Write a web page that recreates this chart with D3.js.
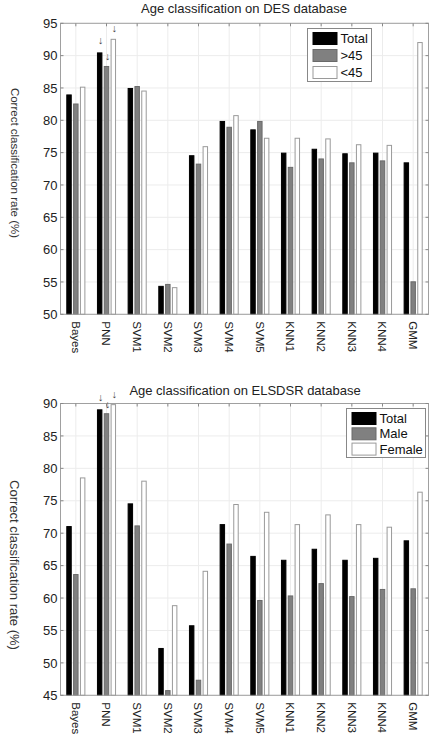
<!DOCTYPE html>
<html><head><meta charset="utf-8">
<script src="https://cdn.jsdelivr.net/npm/d3@7"></script>
<style>
html,body{margin:0;padding:0;background:#fff;}
svg{display:block;font-family:"Liberation Sans",Arial,Helvetica,sans-serif;}
</style></head>
<body>
<script>
const categories = ["Bayes","PNN","SVM1","SVM2","SVM3","SVM4","SVM5","KNN1","KNN2","KNN3","KNN4","GMM"];

// Chart 1: DES database
const desTitle = "Age classification on DES database";
const desSeries = ["Total", ">45", "<45"];
const desTotal = [84.0, 90.5, 85.0, 54.4, 74.6, 79.9, 78.6, 75.0, 75.6, 74.9, 75.0, 73.5];
const desOver45 = [82.6, 88.4, 85.3, 54.7, 73.3, 79.0, 79.9, 72.8, 74.1, 73.5, 73.8, 55.1];
const desUnder45 = [85.2, 92.6, 84.6, 54.2, 76.0, 80.8, 77.3, 77.3, 77.2, 76.3, 76.2, 92.1];
const desTicks = [50, 55, 60, 65, 70, 75, 80, 85, 90, 95];

// Chart 2: ELSDSR database
const elsTitle = "Age classification on ELSDSR database";
const elsSeries = ["Total", "Male", "Female"];
const elsTotal = [71.1, 89.1, 74.6, 52.3, 55.8, 71.4, 66.5, 65.9, 67.6, 65.9, 66.2, 68.9];
const elsMale = [63.7, 88.5, 71.2, 45.8, 47.4, 68.4, 59.7, 60.4, 62.3, 60.3, 61.4, 61.5];
const elsFemale = [78.6, 89.9, 78.1, 58.9, 64.2, 74.5, 73.3, 71.4, 72.9, 71.4, 71.0, 76.4];
const elsTicks = [45, 50, 55, 60, 65, 70, 75, 80, 85, 90];

const yLabel = "Correct classification rate (%)";
const fills = ["#000000", "#808080", "#ffffff"];
const strokes = ["#000000", "#6a6a6a", "#9a9a9a"];

const W = 437, H = 741;
const svg = d3.select("body").append("svg").attr("width", W).attr("height", H);

function drawChart(cfg) {
  const g = svg.append("g");
  const x = d3.scaleBand().domain(categories).range([60.5, 428.5]).paddingInner(0).paddingOuter(0);
  const bw = x.bandwidth();
  const groupW = bw * 0.667;
  const x1 = d3.scaleBand().domain(d3.range(3)).range([-groupW / 2, groupW / 2]).paddingInner(0.2).paddingOuter(0.1);
  const y = d3.scaleLinear().domain(cfg.domain).range(cfg.range);
  const [x0, xR] = x.range();
  const [yB, yT] = cfg.range;

  // grid
  g.append("g").selectAll("line.h").data(cfg.ticks).join("line")
    .attr("x1", x0).attr("x2", xR).attr("y1", d => y(d)).attr("y2", d => y(d))
    .attr("stroke", "#ececec").attr("stroke-width", 1);
  g.append("g").selectAll("line.v").data(categories).join("line")
    .attr("x1", d => x(d) + bw / 2).attr("x2", d => x(d) + bw / 2).attr("y1", yT).attr("y2", yB)
    .attr("stroke", "#ececec").attr("stroke-width", 1);

  // bars
  const series = cfg.series;
  series.forEach((vals, si) => {
    g.append("g").selectAll("rect").data(vals).join("rect")
      .attr("x", (d, i) => x(categories[i]) + bw / 2 + x1(si) + 0.5)
      .attr("width", x1.bandwidth() - 1)
      .attr("y", d => y(d) + 0.5)
      .attr("height", d => Math.max(0, yB - y(d) - 0.5))
      .attr("fill", fills[si]).attr("stroke", strokes[si]).attr("stroke-width", 1);
  });

  // axes box
  g.append("rect").attr("x", x0).attr("y", yT).attr("width", xR - x0).attr("height", yB - yT)
    .attr("fill", "none").attr("stroke", "#a0a0a0").attr("stroke-width", 1);

  // y ticks
  const yAxis = d3.axisLeft(y).tickValues(cfg.ticks).tickSize(0).tickPadding(3).tickFormat(d3.format("d"));
  const ya = g.append("g").attr("transform", `translate(${x0},0)`).call(yAxis);
  ya.select(".domain").remove();
  ya.selectAll("text").attr("font-size", 13).attr("fill", "#222").attr("font-family", "Liberation Sans, Arial, sans-serif");
  // inward tick marks
  g.append("g").selectAll("line").data(cfg.ticks).join("line")
    .attr("x1", x0).attr("x2", x0 + 3).attr("y1", d => y(d)).attr("y2", d => y(d)).attr("stroke", "#888");
  g.append("g").selectAll("line").data(cfg.ticks).join("line")
    .attr("x1", xR - 3).attr("x2", xR).attr("y1", d => y(d)).attr("y2", d => y(d)).attr("stroke", "#888");
  g.append("g").selectAll("line").data(categories).join("line")
    .attr("x1", d => x(d) + bw / 2).attr("x2", d => x(d) + bw / 2).attr("y1", yT).attr("y2", yT + 3).attr("stroke", "#888");

  // x labels rotated
  g.append("g").selectAll("text").data(categories).join("text")
    .attr("transform", d => `translate(${x(d) + bw / 2},${yB + 7}) rotate(90)`)
    .attr("dy", "0.35em").attr("font-size", 11.5).attr("fill", "#222").text(d => d);

  // title
  g.append("text").attr("x", cfg.titleX).attr("y", cfg.titleY).attr("text-anchor", "middle")
    .attr("font-size", 13).attr("fill", "#222").text(cfg.title);

  // y label
  g.append("text").attr("transform", `translate(15,${cfg.ylabY}) rotate(90)`)
    .attr("text-anchor", "middle").attr("dy", "0.35em").attr("font-size", cfg.ylabSize).attr("fill", "#333").text(yLabel);

  // arrows on PNN
  const arrowData = [cfg.arrowY[0], cfg.arrowY[1], cfg.arrowY[2]];
  g.append("g").selectAll("text").data(arrowData).join("text")
    .attr("x", (d, si) => x("PNN") + bw / 2 + x1(si) + x1.bandwidth() / 2 + 1)
    .attr("y", d => d).attr("text-anchor", "middle").attr("font-size", 10.5).attr("fill", "#444").text("\u2193");

  // legend
  const L = cfg.legend;
  const lg = g.append("g");
  lg.append("rect").attr("x", L.x).attr("y", L.y).attr("width", L.w).attr("height", L.h)
    .attr("fill", "#fff").attr("stroke", "#888").attr("stroke-width", 1);
  cfg.names.forEach((n, si) => {
    const cy = L.y + 10 + si * L.step;
    lg.append("rect").attr("x", L.x + 5.5).attr("y", cy - 6).attr("width", 24).attr("height", 12)
      .attr("fill", fills[si]).attr("stroke", strokes[si]);
    lg.append("text").attr("x", L.x + 33).attr("y", cy).attr("dy", "0.35em").attr("font-size", 13).attr("fill", "#111").text(n);
  });
}

drawChart({
  domain: [50, 95], range: [314.3, 23.3], ticks: desTicks,
  series: [desTotal, desOver45, desUnder45], names: desSeries,
  title: desTitle, titleX: 244, titleY: 13,
  ylabY: 163, ylabSize: 11.5,
  arrowY: [44, 60, 32],
  legend: {x: 307.5, y: 28.5, w: 64, h: 53, step: 17}
});
drawChart({
  domain: [45, 90], range: [695.3, 403.5], ticks: elsTicks,
  series: [elsTotal, elsMale, elsFemale], names: elsSeries,
  title: elsTitle, titleX: 245, titleY: 395,
  ylabY: 565, ylabSize: 13,
  arrowY: [401, 408, 398],
  legend: {x: 346.5, y: 408.5, w: 79, h: 49, step: 15.3}
});
</script>
</body></html>
